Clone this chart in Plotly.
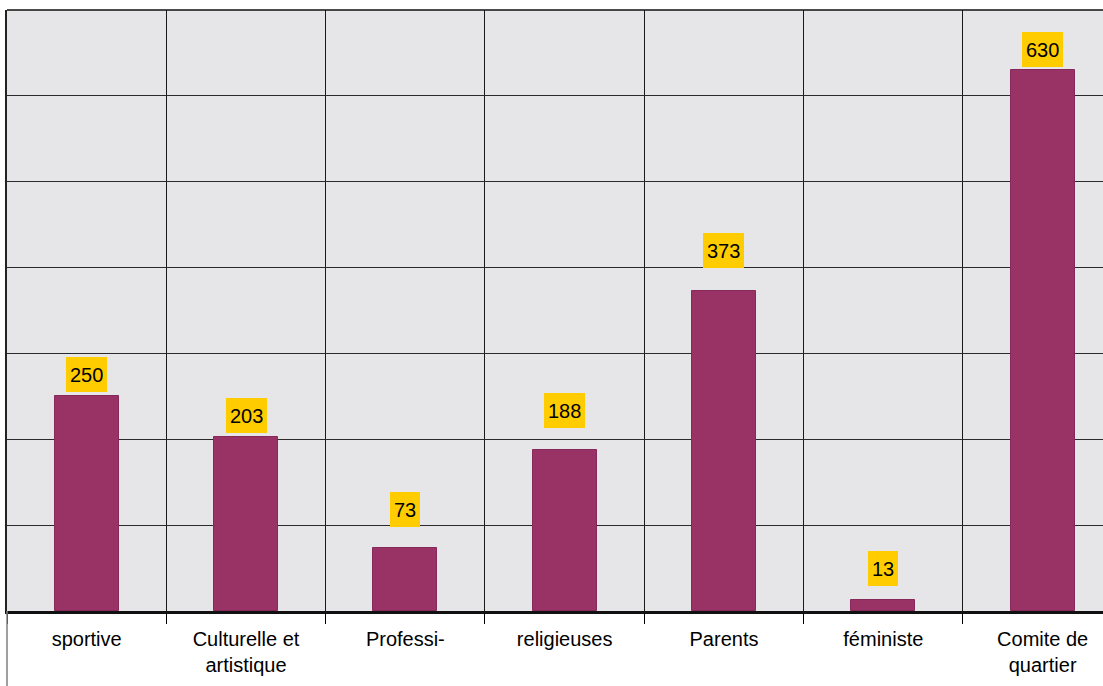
import plotly.graph_objects as go

categories = ["sportive", "Culturelle et<br>artistique", "Professi-", "religieuses",
              "Parents", "féministe", "Comite de<br>quartier"]
values = [250, 203, 73, 188, 373, 13, 630]
label_gap_px = [4, 4, 21, 22, 23, 14, 3]

y_ticks = [0, 100, 200, 300, 400, 500, 600, 700]

BAR = "#993366"
LABEL_BG = "#FFCC00"
FONT = "Liberation Sans, Arial, sans-serif"

fig = go.Figure()
fig.add_trace(go.Bar(
    x=categories, y=values, width=0.4,
    marker=dict(color=BAR, line=dict(color="#86295a", width=1)),
    hoverinfo="skip",
))

for c, v, g in zip(categories, values, label_gap_px):
    fig.add_annotation(
        x=c, y=v, xref="x", yref="y", text=str(v), showarrow=False,
        yanchor="bottom", yshift=g, height=27,
        font=dict(family=FONT, size=20, color="#000000"),
        bgcolor=LABEL_BG, borderpad=4, borderwidth=0,
    )

# left chart border below the plot
fig.add_shape(type="line", xref="paper", yref="paper", x0=0, x1=0,
              y0=-0.15, y1=0, line=dict(color="#808080", width=1.5))
# top frame
fig.add_shape(type="line", xref="paper", yref="paper", x0=0, x1=1,
              y0=1, y1=1, line=dict(color="#111111", width=1.5))

n = len(categories)
cat_px = 159.33
plot_px = 1103 - 7
fig.update_layout(
    width=1103, height=686,
    margin=dict(l=7, r=0, t=10, b=75),
    paper_bgcolor="#ffffff",
    plot_bgcolor="#e6e6e8",
    showlegend=False,
    bargap=0,
    font=dict(family=FONT, size=20, color="#000000"),
    xaxis=dict(
        type="category",
        range=[-0.5, -0.5 + plot_px / cat_px],
        tickson="boundaries",
        ticks="outside", ticklen=10, tickcolor="#000000", tickwidth=1,
        ticklabelstandoff=8,
        showgrid=True, gridcolor="#1a1a1a", gridwidth=1,
        showline=True, linecolor="#111111", linewidth=3,
        tickfont=dict(family=FONT, size=20, color="#000000"),
        fixedrange=True,
    ),
    yaxis=dict(
        range=[0, 700],
        tickvals=y_ticks,
        showticklabels=False,
        showgrid=True, gridcolor="#2a2a2a", gridwidth=1,
        zeroline=False,
        showline=True, linecolor="#222222", linewidth=1.5,
        fixedrange=True,
    ),
)

fig.write_html("out.html")
